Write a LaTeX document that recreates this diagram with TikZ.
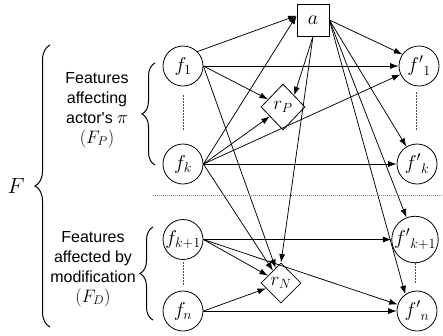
\RequirePackage{fix-cm}
\documentclass[tikz,border=0pt]{standalone}
\usepackage{fontspec}
\newfontfamily\labfont{Liberation Sans}[Ligatures=TeXOff]
\usetikzlibrary{shapes.geometric,arrows.meta,decorations.pathreplacing}
\begin{document}
\begin{tikzpicture}[x=1pt,y=-1pt,
  fnode/.style={circle,draw,line width=0.8pt,minimum size=40pt,inner sep=0pt,font=\fontsize{20}{22}\selectfont},
  abox/.style={rectangle,draw,line width=0.8pt,minimum size=32pt,inner sep=0pt,font=\fontsize{20}{22}\selectfont},
  rdiam/.style={diamond,draw,line width=0.8pt,inner sep=0pt,font=\fontsize{19}{20}\selectfont},
  conn/.style={-{Latex[length=8.5pt,width=6pt]},line width=0.75pt},
  lab/.style={align=center,font=\labfont\fontsize{16}{20}\selectfont,inner sep=0pt},
  dotv/.style={line width=0.7pt,gray!60!black,dash pattern=on 1.5pt off 1.5pt},
  sepline/.style={line width=0.7pt,gray,dash pattern=on 1pt off 1pt},
  brc/.style={line width=1pt,decorate}
]
\useasboundingbox (0,0) rectangle (443,335);

\node[fnode] (f1) at (183,66) {$f_1$};
\node[fnode] (fk) at (183,164) {$f_k$};
\node[fnode] (fk1) at (183,239.5) {$f_{k+1}$};
\node[fnode] (fn) at (183,311) {$f_n$};
\node[fnode] (g1) at (419,66) {${f'}_1$};
\node[fnode] (gk) at (417,164) {${f'}_k$};
\node[fnode] (gk1) at (415,239.5) {${f'}_{k+1}$};
\node[fnode] (gn) at (417,311) {${f'}_n$};
\node[abox] (a) at (313,20) {$a$};
\node[rdiam,minimum width=44pt,minimum height=46pt] (rP) at (283,107) {$r_P$};
\node[rdiam,minimum width=40pt,minimum height=40pt] (rN) at (281,283) {$r_N$};

\node[lab] (tP) at (97,110) {Features\\affecting\\actor's {\fontsize{18}{20}\selectfont$\pi$}\\{\fontsize{18}{20}\selectfont$(F_P)$}};
\node[lab] (tD) at (93,269) {Features\\affected by\\modification\\{\fontsize{18}{20}\selectfont$(F_D)$}};
\node[font=\fontsize{22}{24}\selectfont,inner sep=0pt] (F) at (16,186) {$F$};

\draw[conn] (f1.north east) -- (a.165);
\draw[conn] (fk.east) -- (a.165);
\draw[conn] (f1.east) -- (g1);
\draw[conn] (f1.east) -- (rP);
\draw[conn] (f1.east) -- (rN);
\draw[conn] (fk.east) -- (rP);
\draw[conn] (fk.east) -- (g1);
\draw[conn] (fk.east) -- (gk);
\draw[conn] (fk.east) -- (rN);
\draw[conn] (fk1.east) -- (gk1);
\draw[conn] (fk1.east) -- (gn);
\draw[conn] (fk1.east) -- (rN);
\draw[conn] (fn.east) -- (rN);
\draw[conn] (fn.east) -- (gn);
\draw[conn] (a.east) -- (g1.145);
\draw[conn] (a.east) -- (gk);
\draw[conn] (a.east) -- (gk1);
\draw[conn] (a.east) -- (gn.125);
\draw[conn] (a.south) -- (rP.north east);
\draw[conn] (a.south) -- (rN.north);

\draw[dotv] (183,95) -- (183,131);
\draw[dotv] (416,92) -- (416,130);
\draw[dotv] (183,262) -- (183,286);
\draw[dotv] (415,263) -- (415,284);
\draw[sepline] (153,195) -- (443,195);

\draw[brc,decoration={brace,amplitude=13pt}] (155,165) -- (155,63);
\draw[brc,decoration={brace,amplitude=13pt}] (153,320) -- (153,227);
\draw[brc,decoration={brace,amplitude=15pt}] (50,327) -- (50,45);
\end{tikzpicture}
\end{document}
